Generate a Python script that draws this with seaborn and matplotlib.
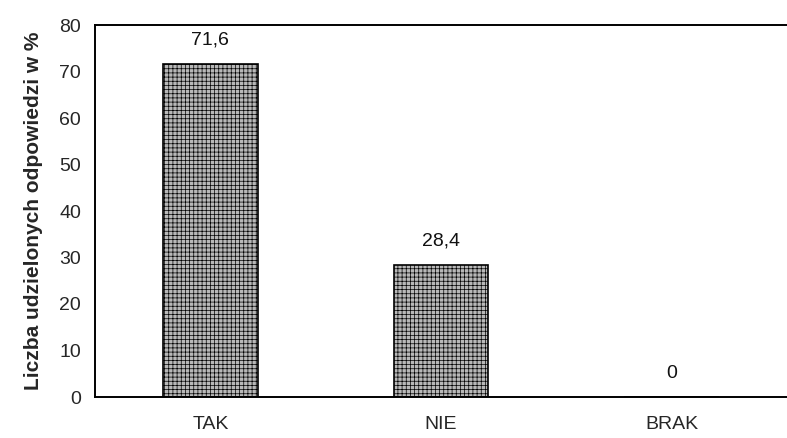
import matplotlib
matplotlib.use("Agg")
import matplotlib.pyplot as plt
import seaborn as sns
import pandas as pd

categories = ["TAK", "NIE", "BRAK"]
values = [71.6, 28.4, 0.0]
value_labels = ["71,6", "28,4", "0"]
y_ticks = [0, 10, 20, 30, 40, 50, 60, 70, 80]

sns.set_theme(style="white")
plt.rcParams["font.family"] = ["Liberation Sans", "DejaVu Sans"]
plt.rcParams["hatch.color"] = "#999999"
plt.rcParams["hatch.linewidth"] = 0.5

df = pd.DataFrame({"odpowiedz": categories, "procent": values})

fig = plt.figure(figsize=(7.87, 4.38), dpi=100)
ax = fig.add_axes([95 / 787, 1 - 397 / 438, 692 / 787, 372 / 438])

sns.barplot(data=df, x="odpowiedz", y="procent", ax=ax, color="#b8b8b8",
            width=0.41, saturation=1, edgecolor="black", linewidth=1.2)
for patch in ax.patches:
    patch.set_hatch("++++")

for i, (v, lab) in enumerate(zip(values, value_labels)):
    ax.text(i, v + 3.3, lab, ha="center", va="bottom", fontsize=14, color="#111111")

ax.set_ylim(0, 80)
ax.set_yticks(y_ticks)
ax.set_yticklabels([str(t) for t in y_ticks], fontsize=14)
ax.set_xlim(-0.5, 2.5)
ax.tick_params(axis="x", labelsize=14, pad=14, length=0)
ax.tick_params(axis="y", pad=10, length=0)
ax.set_xlabel("")
ax.set_ylabel("Liczba udzielonych odpowiedzi w %", fontsize=15, fontweight="bold", labelpad=12)

for side in ["left", "bottom", "top"]:
    ax.spines[side].set_visible(True)
    ax.spines[side].set_color("black")
    ax.spines[side].set_linewidth(1.4)
ax.spines["right"].set_visible(False)

fig.savefig("out.png", dpi=100)
